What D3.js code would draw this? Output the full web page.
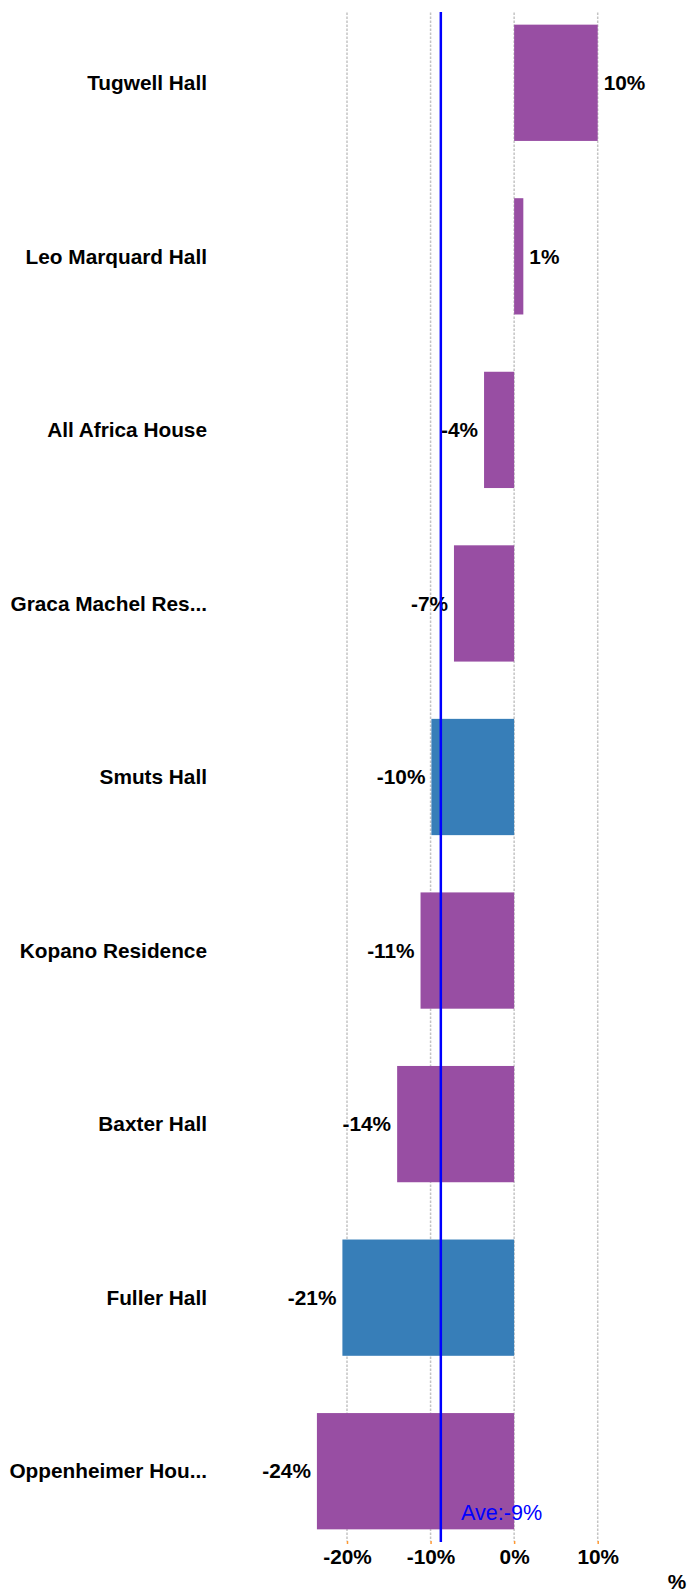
<!DOCTYPE html>
<html>
<head>
<meta charset="utf-8">
<script src="https://cdn.jsdelivr.net/npm/d3@7"></script>
<style>
  body { margin: 0; background: #fff; }
  svg text { font-family: Arial, "Liberation Sans", Helvetica, sans-serif; }
</style>
</head>
<body>
<div id="chart"></div>
<script>
// data
var halls = ["Tugwell Hall", "Leo Marquard Hall", "All Africa House", "Graca Machel Res...",
             "Smuts Hall", "Kopano Residence", "Baxter Hall", "Fuller Hall", "Oppenheimer Hou..."]
var change = [10, 1.1, -3.6, -7.2, -9.9, -11.2, -14, -20.55, -23.6]
var highlight = [false, false, false, false, true, false, false, true, false]
var tickValues = [-20, -10, 0, 10]

var width = 688, height = 1593
var font = "Arial, 'Liberation Sans', Helvetica, sans-serif"
var labelSize = "20.8px"

var svg = d3.select("#chart")
  .append("svg")
    .attr("width", width)
    .attr("height", height)
    .attr("font-family", font)

var data = halls.map((h, i) => ({name: h, value: change[i], hi: highlight[i]}))

var x = d3.scaleLinear()
    .domain([-20, 10])
    .range([347, 597.7])

var y = d3.scaleBand()
    .domain(halls)
    .range([12.5, 1541.5])
    .paddingInner(0.33)
    .paddingOuter(0.07)

// grid lines
svg.append("g")
  .selectAll("line")
  .data(tickValues)
  .join("line")
    .attr("x1", d => x(d))
    .attr("x2", d => x(d))
    .attr("y1", 12.5)
    .attr("y2", 1541.5)
    .attr("stroke", "#c4c4c4")
    .attr("stroke-width", 1.5)
    .attr("stroke-dasharray", "2.5,1.5")

// x axis
var xAxis = svg.append("g")
    .attr("transform", "translate(0,1541)")
    .call(d3.axisBottom(x).tickValues(tickValues).tickSize(3).tickFormat(d => d + "%"))
xAxis.attr("font-family", font)
xAxis.select(".domain").remove()
xAxis.selectAll(".tick line").attr("stroke", "#ff9933").attr("stroke-width", 1.5)
xAxis.selectAll(".tick text")
    .attr("y", 8)
    .style("font-size", labelSize)
    .style("font-weight", "bold")
    .attr("fill", "#000")

svg.append("text")
    .attr("x", 677)
    .attr("y", 1589)
    .attr("text-anchor", "middle")
    .style("font-size", labelSize)
    .style("font-weight", "bold")
    .text("%")

// bars
svg.append("g")
  .selectAll("rect")
  .data(data)
  .join("rect")
    .attr("x", d => x(Math.min(0, d.value)))
    .attr("width", d => Math.abs(x(d.value) - x(0)))
    .attr("y", d => y(d.name))
    .attr("height", y.bandwidth())
    .attr("fill", d => d.hi ? "#377eb8" : "#984ea3")

// category labels
svg.append("g")
  .selectAll("text")
  .data(data)
  .join("text")
    .attr("x", 207)
    .attr("y", d => y(d.name) + y.bandwidth() / 2)
    .attr("dy", ".35em")
    .attr("text-anchor", "end")
    .style("font-size", labelSize)
    .style("font-weight", "bold")
    .text(d => d.name)

// value labels
svg.append("g")
  .selectAll("text")
  .data(data)
  .join("text")
    .attr("x", d => d.value >= 0 ? x(d.value) + 6 : x(d.value) - 6)
    .attr("y", d => y(d.name) + y.bandwidth() / 2)
    .attr("dy", ".35em")
    .attr("text-anchor", d => d.value >= 0 ? "start" : "end")
    .style("font-size", labelSize)
    .style("font-weight", "bold")
    .text(d => d.value.toFixed(0) + "%")

// average line
var ave = d3.mean(change)
svg.append("line")
    .attr("x1", x(ave))
    .attr("x2", x(ave))
    .attr("y1", 12)
    .attr("y2", 1542)
    .attr("stroke", "blue")
    .attr("stroke-width", 2.5)

svg.append("text")
    .attr("x", 461)
    .attr("y", 1520)
    .attr("fill", "blue")
    .style("font-size", "21.6px")
    .text("Ave:" + ave.toFixed(0) + "%")
</script>
</body>
</html>
